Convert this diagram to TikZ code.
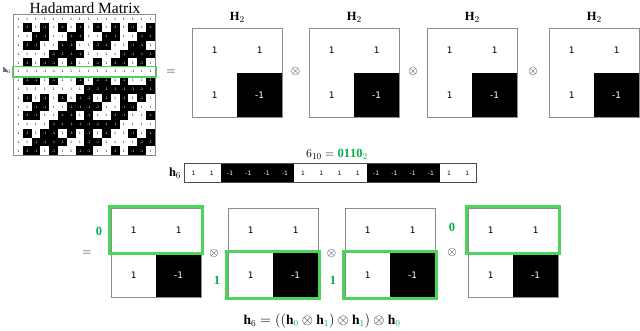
\documentclass[tikz,border=0pt]{standalone}
\usepackage{fontspec}
\setmainfont{Liberation Serif}
\newfontfamily\cellfont{DejaVu Sans}
\definecolor{gbox}{RGB}{76,212,92}
\definecolor{gtext}{RGB}{0,176,80}
\newcommand{\hblk}[3]{%
  \node[bcell, fill=white, text=black, anchor=north west] (#1-11) at (#2,#3) {1};
  \node[bcell, fill=white, text=black, anchor=north west] (#1-12) at (#2+45,#3) {1};
  \node[bcell, fill=white, text=black, anchor=north west] (#1-21) at (#2,#3+44.5) {1};
  \node[bcell, fill=black, text=white, anchor=north west] (#1-22) at (#2+45,#3+44.5) {-1};
  \draw[frame] (#1-11.north west) rectangle (#1-22.south east);
}
\begin{document}
\begin{tikzpicture}[x=1pt,y=-1pt,
  mcell/.style={rectangle, inner sep=0pt, minimum width=8.8pt, minimum height=8.8pt, font=\cellfont\fontsize{3.2}{3.5}\selectfont},
  bcell/.style={rectangle, inner sep=0pt, minimum width=45pt, minimum height=44.5pt, font=\cellfont\fontsize{9}{10}\selectfont},
  rcell/.style={rectangle, inner sep=0pt, minimum width=18.25pt, minimum height=18pt, font=\cellfont\fontsize{6}{7}\selectfont},
  frame/.style={draw=black!45, line width=0.7pt},
  gline/.style={draw=gbox, line width=3pt},
  glab/.style={text=gtext, font=\bfseries\fontsize{12.5}{14}\selectfont, inner sep=0pt},
  op/.style={inner sep=0pt, font=\fontsize{12}{14}\selectfont},
  lab/.style={inner sep=0pt, font=\fontsize{12.5}{14}\selectfont}]
\useasboundingbox (0,0) rectangle (640,331);
% ---------- Hadamard matrix ----------
\node[inner sep=0pt, font=\fontsize{15.5}{17}\selectfont] (title) at (85,8) {Hadamard Matrix};
\foreach \i in {0,...,15}{
  \foreach \j in {0,...,15}{
    \pgfmathtruncatemacro\p{mod(mod(\i,2)*mod(\j,2)+mod(floor(\i/2),2)*mod(floor(\j/2),2)+mod(floor(\i/4),2)*mod(floor(\j/4),2)+mod(floor(\i/8),2)*mod(floor(\j/8),2),2)}
    \ifnum\i=6
      \ifnum\p=1
        \node[mcell, fill=white, text=black] (m-\i-\j) at ({14+8.8*(\j+0.5)},{14.5+8.8*(\i+0.5)}) {-1};
      \else
        \node[mcell, fill=white, text=black] (m-\i-\j) at ({14+8.8*(\j+0.5)},{14.5+8.8*(\i+0.5)}) {1};
      \fi
    \else
      \ifnum\p=1
        \node[mcell, fill=black, text=white] (m-\i-\j) at ({14+8.8*(\j+0.5)},{14.5+8.8*(\i+0.5)}) {-1};
      \else
        \node[mcell, fill=white, text=black] (m-\i-\j) at ({14+8.8*(\j+0.5)},{14.5+8.8*(\i+0.5)}) {1};
      \fi
    \fi
  }
}
\draw[frame] (m-0-0.north west) rectangle (m-15-15.south east);
\draw[draw=gbox, line width=1.6pt] ([shift={(-1.5,-0.6)}]m-6-0.north west) rectangle ([shift={(1.5,0.6)}]m-6-15.south east);
\node[inner sep=0pt, font=\fontsize{7}{8}\selectfont] (h6m) at (7,71) {$\mathbf{h}_6$};
\node[op] (eq1) at (171,72) {$=$};
% ---------- top H2 blocks ----------
\hblk{T1}{192}{28}
\hblk{T2}{309}{28}
\hblk{T3}{427}{28}
\hblk{T4}{549}{28}
\foreach \k in {1,2,3,4}{
  \node[lab, anchor=south] (HL\k) at ([yshift=5pt]T\k-11.north east) {$\mathbf{H}_2$};
}
\node[op] (ot1) at (295.5,72) {$\otimes$};
\node[op] (ot2) at (413,72) {$\otimes$};
\node[op] (ot3) at (533,72) {$\otimes$};
% ---------- h6 row ----------
\node[lab] (dec) at (337,154) {$6_{10} = \mathbf{\color{gtext}0110}_{\color{gtext}2}$};
\foreach \j in {0,...,15}{
  \pgfmathtruncatemacro\p{mod(mod(floor(\j/2),2)+mod(floor(\j/4),2),2)}
  \ifnum\p=1
    \node[rcell, fill=black, text=white] (r-\j) at ({184.5+18.25*(\j+0.5)},173) {-1};
  \else
    \node[rcell, fill=white, text=black] (r-\j) at ({184.5+18.25*(\j+0.5)},173) {1};
  \fi
}
\draw[draw=black!70, line width=0.6pt] (r-0.north west) rectangle (r-15.south east);
\node[lab, anchor=east] (h6r) at ([xshift=-3pt]r-0.west) {$\mathbf{h}_6$};
% ---------- bottom blocks ----------
\node[op] (eq2) at (87,253) {$=$};
\hblk{A}{111}{208}
\hblk{B}{228}{208}
\hblk{C}{345}{208}
\hblk{D}{468}{208}
\draw[gline] ([shift={(-1.5,-1.5)}]A-11.north west) rectangle ([shift={(1.5,1)}]A-12.south east);
\draw[gline] ([shift={(-1.5,-1)}]B-21.north west) rectangle ([shift={(1.5,1.5)}]B-22.south east);
\draw[gline] ([shift={(-1.5,-1)}]C-21.north west) rectangle ([shift={(1.5,1.5)}]C-22.south east);
\draw[gline] ([shift={(-1.5,-1.5)}]D-11.north west) rectangle ([shift={(1.5,1)}]D-12.south east);
\node[glab] (bA) at (99,231) {0};
\node[glab] (bB) at (217,280) {1};
\node[glab] (bC) at (333,280) {1};
\node[glab] (bD) at (452,227) {0};
\node[op] (ob1) at (214,254) {$\otimes$};
\node[op] (ob2) at (331.5,254) {$\otimes$};
\node[op] (ob3) at (452,252) {$\otimes$};
\node[inner sep=0pt, font=\fontsize{13.5}{15}\selectfont] (formula) at (322,321) {$\mathbf{h}_6 = ((\mathbf{h}_{\color{gtext}0} \otimes \mathbf{h}_{\color{gtext}1}) \otimes \mathbf{h}_{\color{gtext}1}) \otimes \mathbf{h}_{\color{gtext}0}$};
\end{tikzpicture}
\end{document}
